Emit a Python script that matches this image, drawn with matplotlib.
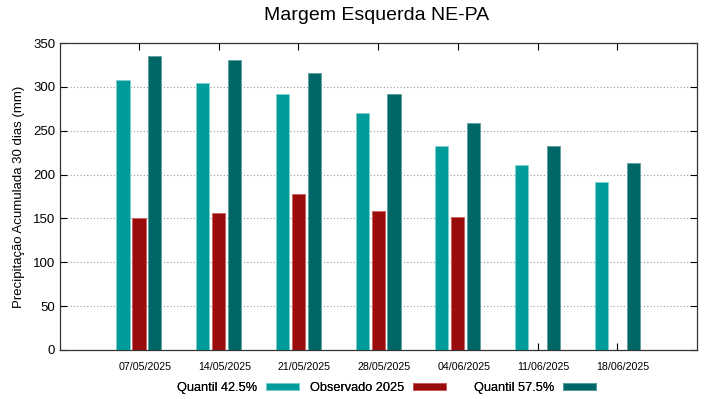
import matplotlib
matplotlib.use("Agg")
import matplotlib.pyplot as plt
import matplotlib.transforms as mtransforms
import numpy as np

plt.rcParams['font.family'] = ['Liberation Sans', 'DejaVu Sans']

dates = ["07/05/2025", "14/05/2025", "21/05/2025", "28/05/2025", "04/06/2025", "11/06/2025", "18/06/2025"]
q425 = [308, 304, 292, 270, 233, 211, 192]
obs2025 = [151, 156, 178, 159, 152, None, None]
q575 = [335, 331, 316, 292, 259, 233, 213]

c_q425 = "#009b9b"
c_obs = "#9a0c0c"
c_q575 = "#006666"

fig = plt.figure(figsize=(7.19, 3.99), dpi=100)
ax = fig.add_axes([60/719, 49/399, 637/719, 307/399])

x = np.arange(len(dates))
w = 0.165
off = 0.2
b1 = ax.bar(x - off, q425, width=w, color=c_q425, edgecolor="#7fd0d0", linewidth=0.6, zorder=3, label="Quantil 42.5%")
ox = [xi for xi, v in zip(x, obs2025) if v is not None]
ov = [v for v in obs2025 if v is not None]
b2 = ax.bar(np.array(ox), ov, width=w, color=c_obs, edgecolor="#d06060", linewidth=0.6, zorder=3, label="Observado 2025")
b3 = ax.bar(x + off, q575, width=w, color=c_q575, edgecolor="#5fa0a0", linewidth=0.6, zorder=3, label="Quantil 57.5%")

ax.set_xlim(-0.99, 7.0)
ax.set_ylim(0, 350)
ax.set_yticks(np.arange(0, 351, 50))
ax.set_xticks(x)
ax.set_xticklabels(dates, fontsize=7.7)
ax.tick_params(axis='x', direction='in', top=True, bottom=True, length=5, pad=9, width=0.8)
ax.tick_params(axis='y', direction='in', left=True, right=True, length=5, labelsize=9.5, width=0.8)
shift = mtransforms.ScaledTranslation(6/100, 0, fig.dpi_scale_trans)
for lbl in ax.get_xticklabels():
    lbl.set_transform(lbl.get_transform() + shift)
ax.yaxis.grid(True, linestyle=(0, (1, 2)), color="#999999", linewidth=0.8, zorder=0)
for s in ax.spines.values():
    s.set_linewidth(0.9)
    s.set_color("#333333")

ax.set_ylabel("Precipitação Acumulada 30 dias (mm)", fontsize=9.5, labelpad=6)
fig.text(377/719, 1 - 15/399, "Margem Esquerda NE-PA", ha='center', va='center', fontsize=14)

for handle, lab, xl in [(b1, "Quantil 42.5%", 177), (b2, "Observado 2025", 310), (b3, "Quantil 57.5%", 474)]:
    lg = fig.legend([handle], [lab], loc='center left', bbox_to_anchor=(xl/719, 1 - 388/399),
                    frameon=False, markerfirst=False, fontsize=9.2, handlelength=2.6,
                    handleheight=0.55, handletextpad=0.7, borderpad=0, borderaxespad=0)
    fig.add_artist(lg)

fig.savefig("out.png", dpi=100)
